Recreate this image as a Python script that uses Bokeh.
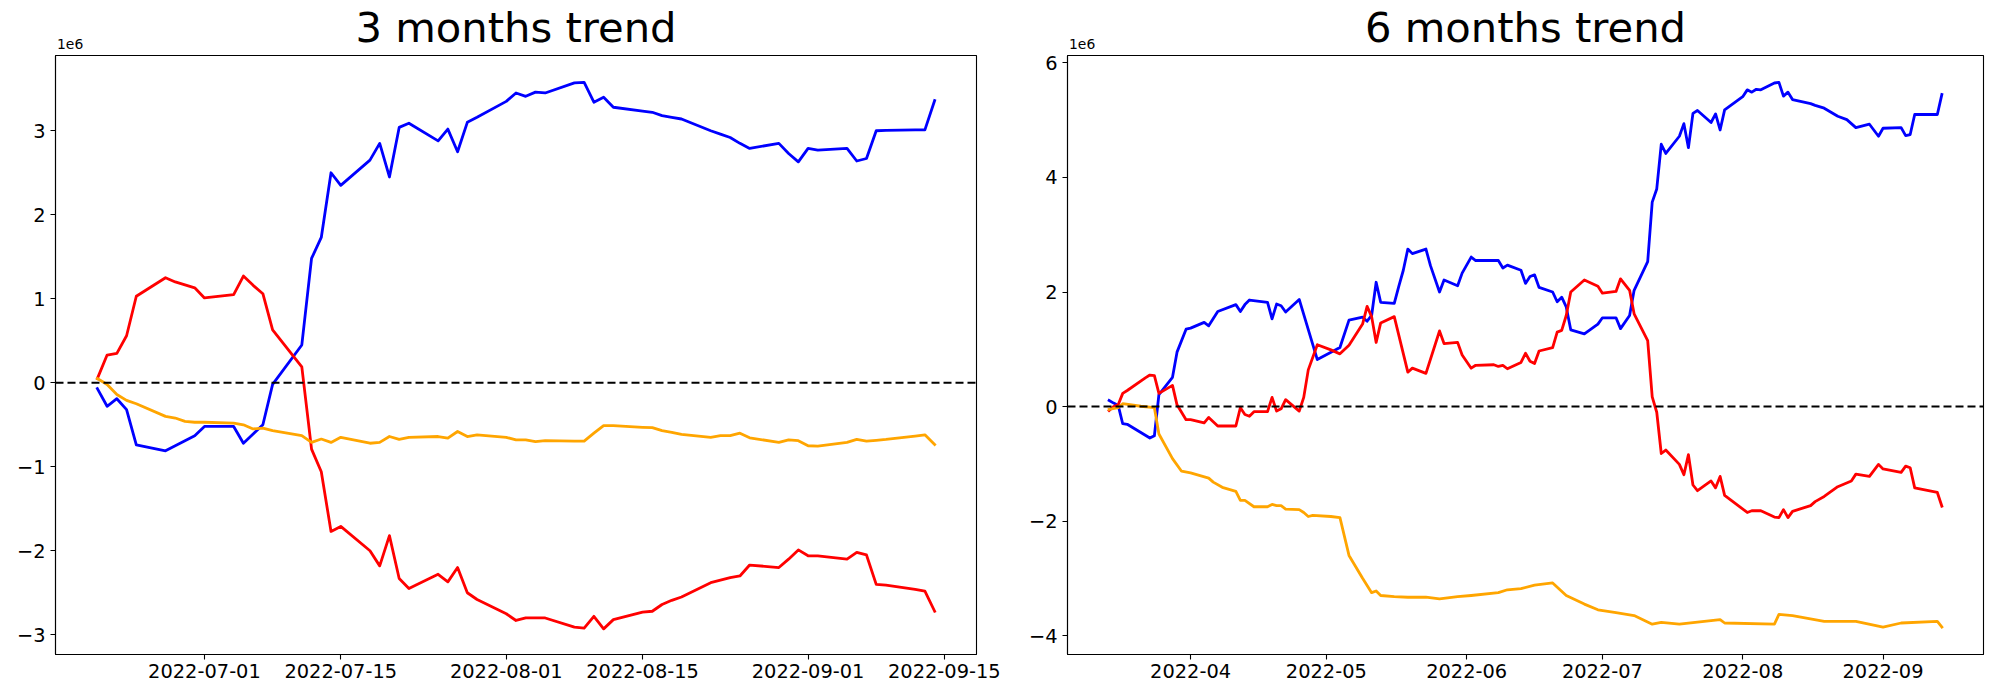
import pandas as pd
from bokeh.plotting import figure
from bokeh.layouts import row, column
from bokeh.models import Range1d, Span, FixedTicker, DatetimeTickFormatter, CustomJSTickFormatter
from bokeh.core.properties import value
from bokeh.embed import file_html
from bokeh.resources import INLINE

# ---------------- data (values in units of 1e6) ----------------
titles = ["3 months trend", "6 months trend"]
offset_text = "1e6"

three_dates = list(pd.bdate_range("2022-06-20", "2022-09-14"))
three_blue = [-0.07, -0.28, -0.19, -0.32, -0.74, -0.81, -0.75, -0.69, -0.63, -0.52,
              -0.52, -0.72, -0.61, -0.50, -0.02, 0.45, 1.48, 1.73, 2.50, 2.35,
              2.65, 2.85, 2.45, 3.04, 3.09, 2.88, 3.02, 2.75, 3.10, 3.16,
              3.35, 3.45, 3.41, 3.46, 3.45, 3.57, 3.575, 3.34, 3.40, 3.28,
              3.235, 3.22, 3.18, 3.16, 3.14, 3.00, 2.96, 2.92, 2.85, 2.79,
              2.85, 2.73, 2.63, 2.79, 2.77, 2.79, 2.64, 2.67, 3.00, 3.005,
              3.01, 3.01, 3.36]
three_red = [0.05, 0.33, 0.35, 0.56, 1.03, 1.25, 1.20, 1.165, 1.13, 1.01,
             1.05, 1.27, 1.16, 1.06, 0.63, 0.19, -0.79, -1.06, -1.77, -1.71,
             -2.00, -2.18, -1.82, -2.33, -2.45, -2.28, -2.37, -2.20, -2.50, -2.58,
             -2.75, -2.83, -2.80, -2.80, -2.80, -2.91, -2.92, -2.78, -2.93, -2.82,
             -2.73, -2.72, -2.64, -2.59, -2.55, -2.38, -2.35, -2.32, -2.30, -2.17,
             -2.20, -2.10, -1.99, -2.06, -2.06, -2.10, -2.02, -2.05, -2.40, -2.41,
             -2.46, -2.48, -2.72]
three_orange = [0.05, -0.02, -0.14, -0.21, -0.25, -0.40, -0.42, -0.46, -0.47, -0.47,
                -0.48, -0.50, -0.55, -0.54, -0.57, -0.63, -0.71, -0.67, -0.71, -0.65,
                -0.72, -0.71, -0.64, -0.675, -0.65, -0.64, -0.66, -0.58, -0.64, -0.62,
                -0.65, -0.68, -0.68, -0.70, -0.69, -0.695, -0.695, -0.60, -0.51, -0.51,
                -0.53, -0.535, -0.57, -0.59, -0.615, -0.65, -0.63, -0.63, -0.60, -0.655,
                -0.71, -0.68, -0.69, -0.75, -0.755, -0.71, -0.675, -0.695, -0.685, -0.675,
                -0.635, -0.62, -0.735]

six_blue_dates = ["03-14", "03-15", "03-16", "03-17", "03-18", "03-23", "03-24", "03-25", "03-28", "03-29",
                  "03-31", "04-01", "04-04", "04-05", "04-07", "04-11", "04-12", "04-13", "04-14", "04-18",
                  "04-19", "04-20", "04-21", "04-22", "04-25", "04-29", "05-04", "05-06", "05-09", "05-10",
                  "05-11", "05-12", "05-13", "05-16", "05-17", "05-18", "05-19", "05-20", "05-23", "05-24",
                  "05-26", "05-27", "05-30", "05-31", "06-02", "06-03", "06-08", "06-09", "06-10", "06-13",
                  "06-14", "06-15", "06-16", "06-17", "06-20", "06-21", "06-22", "06-23", "06-24", "06-27",
                  "06-30", "07-01", "07-04", "07-05", "07-07", "07-08", "07-11", "07-12", "07-13", "07-14",
                  "07-15", "07-18", "07-19", "07-20", "07-21", "07-22", "07-25", "07-26", "07-27", "07-28",
                  "08-01", "08-02", "08-03", "08-04", "08-05", "08-08", "08-09", "08-10", "08-11", "08-12",
                  "08-16", "08-17", "08-19", "08-22", "08-24", "08-26", "08-29", "08-31", "09-01", "09-05",
                  "09-06", "09-07", "09-08", "09-13", "09-14"]
six_blue = [0.105, 0.06, 0.02, -0.30, -0.31, -0.55, -0.51, 0.21, 0.51, 0.95,
            1.35, 1.37, 1.47, 1.41, 1.66, 1.78, 1.66, 1.78, 1.86, 1.82,
            1.53, 1.79, 1.76, 1.65, 1.87, 0.82, 1.03, 1.51, 1.56, 1.49,
            1.59, 2.17, 1.82, 1.80, 2.10, 2.38, 2.75, 2.67, 2.75, 2.46,
            2.00, 2.21, 2.11, 2.33, 2.61, 2.55, 2.55, 2.42, 2.47, 2.38,
            2.15, 2.27, 2.30, 2.08, 2.00, 1.83, 1.91, 1.74, 1.34, 1.27,
            1.44, 1.55, 1.55, 1.36, 1.59, 2.03, 2.53, 3.57, 3.80, 4.58,
            4.42, 4.72, 4.94, 4.52, 5.12, 5.17, 4.96, 5.11, 4.83, 5.18,
            5.41, 5.53, 5.49, 5.54, 5.53, 5.65, 5.66, 5.42, 5.49, 5.36,
            5.29, 5.26, 5.21, 5.07, 5.01, 4.87, 4.93, 4.72, 4.86, 4.87,
            4.73, 4.75, 5.10, 5.10, 5.45]

six_red_dates = ["03-14", "03-15", "03-16", "03-17", "03-18", "03-22", "03-23", "03-24", "03-25", "03-28",
                 "03-29", "03-31", "04-01", "04-04", "04-05", "04-07", "04-11", "04-12", "04-13", "04-14",
                 "04-15", "04-18", "04-19", "04-20", "04-21", "04-22", "04-25", "04-26", "04-27", "04-29",
                 "05-02", "05-04", "05-06", "05-09", "05-10", "05-11", "05-12", "05-13", "05-16", "05-19",
                 "05-20", "05-23", "05-26", "05-27", "05-30", "05-31", "06-02", "06-03", "06-07", "06-08",
                 "06-09", "06-10", "06-13", "06-14", "06-15", "06-16", "06-17", "06-20", "06-21", "06-22",
                 "06-23", "06-24", "06-27", "06-30", "07-01", "07-04", "07-05", "07-07", "07-08", "07-11",
                 "07-12", "07-13", "07-14", "07-15", "07-18", "07-19", "07-20", "07-21", "07-22", "07-25",
                 "07-26", "07-27", "07-28", "08-02", "08-03", "08-05", "08-08", "08-09", "08-10", "08-11",
                 "08-12", "08-16", "08-17", "08-19", "08-22", "08-25", "08-26", "08-29", "08-31", "09-01",
                 "09-05", "09-06", "09-07", "09-08", "09-13", "09-14"]
six_red = [-0.07, 0.00, 0.03, 0.23, 0.28, 0.50, 0.55, 0.54, 0.23, 0.37,
           0.03, -0.23, -0.23, -0.285, -0.19, -0.34, -0.34, -0.02, -0.14, -0.17,
           -0.09, -0.09, 0.16, -0.08, -0.04, 0.12, -0.08, 0.16, 0.64, 1.08,
           0.99, 0.92, 1.07, 1.44, 1.75, 1.57, 1.12, 1.46, 1.57, 0.60,
           0.67, 0.58, 1.32, 1.10, 1.12, 0.90, 0.67, 0.72, 0.73, 0.70,
           0.72, 0.66, 0.77, 0.93, 0.79, 0.75, 0.97, 1.03, 1.30, 1.33,
           1.59, 2.00, 2.21, 2.10, 1.98, 2.01, 2.23, 2.03, 1.62, 1.15,
           0.17, -0.10, -0.82, -0.76, -1.01, -1.19, -0.84, -1.37, -1.47, -1.30,
           -1.42, -1.22, -1.55, -1.85, -1.82, -1.82, -1.93, -1.94, -1.80, -1.94,
           -1.83, -1.73, -1.66, -1.57, -1.40, -1.30, -1.18, -1.22, -1.01, -1.09,
           -1.15, -1.04, -1.07, -1.42, -1.50, -1.74]

six_orange_dates = ["03-14", "03-16", "03-17", "03-21", "03-24", "03-25", "03-28", "03-30", "04-01", "04-05",
                    "04-06", "04-08", "04-11", "04-12", "04-13", "04-15", "04-18", "04-19", "04-20", "04-21",
                    "04-22", "04-25", "04-26", "04-27", "04-28", "05-02", "05-04", "05-06", "05-09", "05-11",
                    "05-12", "05-13", "05-16", "05-19", "05-23", "05-26", "05-30", "06-02", "06-08", "06-10",
                    "06-13", "06-16", "06-20", "06-23", "06-27", "06-30", "07-04", "07-08", "07-12", "07-14",
                    "07-18", "07-27", "07-28", "08-08", "08-09", "08-12", "08-19", "08-26", "09-01", "09-05",
                    "09-13", "09-14"]
six_orange = [-0.05, -0.02, 0.05, 0.005, -0.02, -0.48, -0.91, -1.13, -1.16, -1.25,
              -1.32, -1.41, -1.48, -1.64, -1.64, -1.75, -1.75, -1.71, -1.73, -1.73,
              -1.79, -1.80, -1.85, -1.92, -1.90, -1.92, -1.94, -2.60, -3.00, -3.25,
              -3.22, -3.30, -3.32, -3.33, -3.33, -3.36, -3.32, -3.30, -3.25, -3.20,
              -3.18, -3.12, -3.08, -3.30, -3.45, -3.55, -3.60, -3.65, -3.80, -3.77,
              -3.80, -3.72, -3.78, -3.80, -3.63, -3.65, -3.75, -3.75, -3.85, -3.78,
              -3.75, -3.85]

three_xticks = ["2022-07-01", "2022-07-15", "2022-08-01", "2022-08-15", "2022-09-01", "2022-09-15"]
six_xticks = ["2022-04-01", "2022-05-01", "2022-06-01", "2022-07-01", "2022-08-01", "2022-09-01"]
three_yticks = [-3, -2, -1, 0, 1, 2, 3]
six_yticks = [-4, -2, 0, 2, 4, 6]
three_yrange = (-3.235, 3.896)
six_yrange = (-4.33, 6.13)
colors = {"blue": "#0000ff", "red": "#ff0000", "orange": "#ffa500"}


def to_dt(md):
    return pd.to_datetime(["2022-" + s for s in md])


def ms(t):
    return pd.Timestamp(t).value / 1e6


FONT = "DejaVu Sans"
HEAD_H = 50
PLOT_TOP = 5


def make_pair(title, series, xticks, xfmt, yticks, yrange, width, bl, br):
    allx = pd.DatetimeIndex([d for s in series for d in s[0]])
    xmin, xmax = ms(allx.min()), ms(allx.max())
    pad = (xmax - xmin) * 0.05
    xr = Range1d(xmin - pad, xmax + pad)

    # header strip holding the title and the 1e6 offset text
    h = figure(width=width, height=HEAD_H, x_range=xr, y_range=Range1d(0, HEAD_H),
               output_backend="svg", toolbar_location=None,
               x_axis_location=None, y_axis_location=None,
               min_border_left=bl, min_border_right=br, min_border_top=0, min_border_bottom=0)
    h.outline_line_color = None
    h.xgrid.visible = False
    h.ygrid.visible = False
    h.text(x=[(xmin + xmax) / 2], y=[22.6], text=[title], text_align="center",
           text_baseline="alphabetic", text_font=value(FONT),
           text_font_size=value("41.7px"), text_color="black")
    h.text(x=[xmin - pad], y=[7.0], text=[offset_text], text_align="left", x_offset=1.5,
           text_baseline="alphabetic", text_font=value(FONT),
           text_font_size=value("13.9px"), text_color="black")

    p = figure(width=width, height=PLOT_TOP + 599 + 38, x_axis_type="datetime",
               output_backend="svg", toolbar_location=None,
               x_range=xr, y_range=Range1d(*yrange),
               min_border_left=bl, min_border_right=br,
               min_border_top=PLOT_TOP, min_border_bottom=38)
    p.background_fill_color = "white"
    p.border_fill_color = "white"
    p.outline_line_color = "black"
    p.outline_line_width = 1.1
    p.xgrid.visible = False
    p.ygrid.visible = False

    p.add_layout(Span(location=0, dimension="width", line_color="black",
                      line_width=2, line_dash="8 4"))
    for xs, ys, c in series:
        p.line(xs, ys, line_color=colors[c], line_width=2.8,
               line_join="round", line_cap="square")

    for ax in (p.xaxis[0], p.yaxis[0]):
        ax.axis_line_color = "black"
        ax.axis_line_width = 1.1
        ax.major_tick_line_color = "black"
        ax.major_tick_line_width = 1.1
        ax.major_tick_out = 5
        ax.major_tick_in = 0
        ax.minor_tick_line_color = None
        ax.major_label_text_font = FONT
        ax.major_label_text_font_size = "19.4px"
        ax.major_label_text_color = "black"

    p.xaxis[0].ticker = FixedTicker(ticks=[ms(t) for t in xticks])
    p.xaxis[0].formatter = DatetimeTickFormatter(
        milliseconds=xfmt, seconds=xfmt, minsec=xfmt, minutes=xfmt, hourmin=xfmt,
        hours=xfmt, days=xfmt, months=xfmt, years=xfmt)
    p.xaxis[0].major_label_standoff = 4
    p.yaxis[0].ticker = FixedTicker(ticks=yticks)
    p.yaxis[0].formatter = CustomJSTickFormatter(
        code="return tick < 0 ? '\u2212' + (-tick) : String(tick);")
    p.yaxis[0].major_label_standoff = 5
    return h, p


h1, p1 = make_pair(titles[0],
                   [(three_dates, three_blue, "blue"), (three_dates, three_red, "red"),
                    (three_dates, three_orange, "orange")],
                   three_xticks, "%Y-%m-%d", three_yticks, three_yrange, 1016, 55, 40)
h2, p2 = make_pair(titles[1],
                   [(to_dt(six_blue_dates), six_blue, "blue"), (to_dt(six_red_dates), six_red, "red"),
                    (to_dt(six_orange_dates), six_orange, "orange")],
                   six_xticks, "%Y-%m", six_yticks, six_yrange, 976, 51, 9)

layout = column(row(h1, h2), row(p1, p2))
open("out.html", "w").write(file_html(layout, INLINE))
